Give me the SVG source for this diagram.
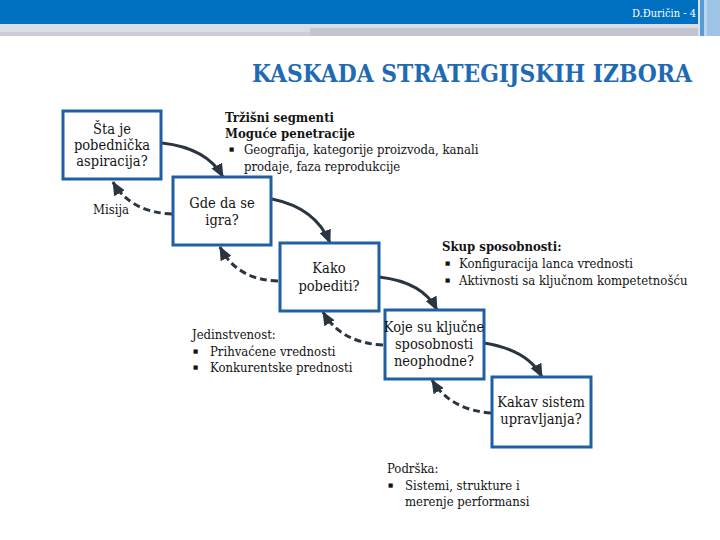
<svg xmlns="http://www.w3.org/2000/svg" width="720" height="540" viewBox="0 0 720 540">
<style>
.box{fill:#fff;stroke:#1F5FA3;stroke-width:3}
.bt{font-family:"DejaVu Serif Condensed","DejaVu Serif",serif;font-size:14.5px;fill:#141414;text-anchor:middle}
.tx{font-family:"DejaVu Serif Condensed","DejaVu Serif",serif;font-size:13px;fill:#141414}
.bu{font-family:"DejaVu Sans",sans-serif;font-size:5.5px;fill:#141414}
.hd{font-weight:bold}
.solid{fill:none;stroke:#2B3540;stroke-width:3;marker-end:url(#ah)}
.dash{fill:none;stroke:#2B3540;stroke-width:3;stroke-dasharray:7 4;marker-end:url(#ah)}
</style>
<defs>
<marker id="ah" markerUnits="userSpaceOnUse" markerWidth="14" markerHeight="12" refX="13" refY="6" orient="auto">
<path d="M0,0 L14,6 L0,12 Z" fill="#2B3540"/>
</marker>
</defs>
<rect width="720" height="540" fill="#fff"/>
<g id="header">
<rect x="0" y="0" width="720" height="24" fill="#0070C0"/>
<rect x="0" y="24" width="720" height="12" fill="#DADDE5"/>
<rect x="0" y="32" width="720" height="4" fill="#CBCED6"/>
<rect x="310" y="28" width="400" height="8" fill="#C2C5CF"/>
<rect x="698" y="0" width="2" height="36" fill="#D6E4F2"/>
<rect x="700" y="0" width="4" height="36" fill="#5B9BD5"/>
<rect x="704" y="0" width="3" height="36" fill="#BCD6EE"/>
<rect x="707" y="0" width="13" height="36" fill="#9DC3E6"/>
<text x="696" y="17" text-anchor="end" font-family="DejaVu Serif Condensed,DejaVu Serif,serif" font-size="11" fill="#fff">D.Đuričin - 4</text>
</g>
<text id="title" x="252" y="82" textLength="440" lengthAdjust="spacingAndGlyphs" font-family="DejaVu Serif Condensed,DejaVu Serif,serif" font-size="25" font-weight="bold" fill="#1F6BB3">KASKADA STRATEGIJSKIH IZBORA</text>
<g id="connectors">
<path class="solid" d="M162,143 Q207,148 223,177"/>
<path class="solid" d="M272,199 Q316,208 330,243"/>
<path class="solid" d="M379,277 Q423,282 437,310"/>
<path class="solid" d="M484,343 Q528,350 542,377"/>
<path class="dash" d="M172,214 Q130,212 113,182"/>
<path class="dash" d="M278,281 Q237,280 220,247"/>
<path class="dash" d="M383,345 Q341,343 323,312"/>
<path class="dash" d="M491,413 Q450,410 432,380"/>
</g>
<g id="n1"><rect class="box" x="63" y="111" width="98" height="68"/>
<text class="bt" x="112" y="134">Šta je</text><text class="bt" x="112" y="150">pobednička</text><text class="bt" x="112" y="166">aspiracija?</text></g>
<g id="n2"><rect class="box" x="173" y="177" width="98" height="68"/>
<text class="bt" x="222" y="208">Gde da se</text><text class="bt" x="222" y="225">igra?</text></g>
<g id="n3"><rect class="box" x="280" y="243" width="99" height="68"/>
<text class="bt" x="329" y="273">Kako</text><text class="bt" x="329" y="291">pobediti?</text></g>
<g id="n4"><rect class="box" x="385" y="310" width="99" height="69"/>
<text class="bt" x="434" y="332">Koje su ključne</text><text class="bt" x="434" y="349">sposobnosti</text><text class="bt" x="434" y="366">neophodne?</text></g>
<g id="n5"><rect class="box" x="492" y="377" width="99" height="70"/>
<text class="bt" x="541" y="407">Kakav sistem</text><text class="bt" x="541" y="424">upravljanja?</text></g>
<g id="labels">
<text class="tx" x="111" y="214" text-anchor="middle" font-size="14">Misija</text>
<text class="tx hd" x="225" y="122">Tržišni segmenti</text>
<text class="tx hd" x="225" y="138">Moguće penetracije</text>
<text class="bu" x="229" y="151">■</text>
<text class="tx" x="244" y="154">Geografija, kategorije proizvoda, kanali</text>
<text class="tx" x="244" y="171">prodaje, faza reprodukcije</text>
<text class="tx hd" x="442" y="251">Skup sposobnosti:</text>
<text class="bu" x="445" y="265">■</text>
<text class="tx" x="459" y="268">Konfiguracija lanca vrednosti</text>
<text class="bu" x="445" y="282">■</text>
<text class="tx" x="459" y="285">Aktivnosti sa ključnom kompetetnošću</text>
<text class="tx" x="192" y="339">Jedinstvenost:</text>
<text class="bu" x="193" y="353">■</text>
<text class="tx" x="210" y="356">Prihvaćene vrednosti</text>
<text class="bu" x="193" y="369">■</text>
<text class="tx" x="210" y="372">Konkurentske prednosti</text>
<text class="tx" x="387" y="473">Podrška:</text>
<text class="bu" x="388" y="487">■</text>
<text class="tx" x="405" y="490">Sistemi, strukture i</text>
<text class="tx" x="405" y="506">merenje performansi</text>
</g>
</svg>
